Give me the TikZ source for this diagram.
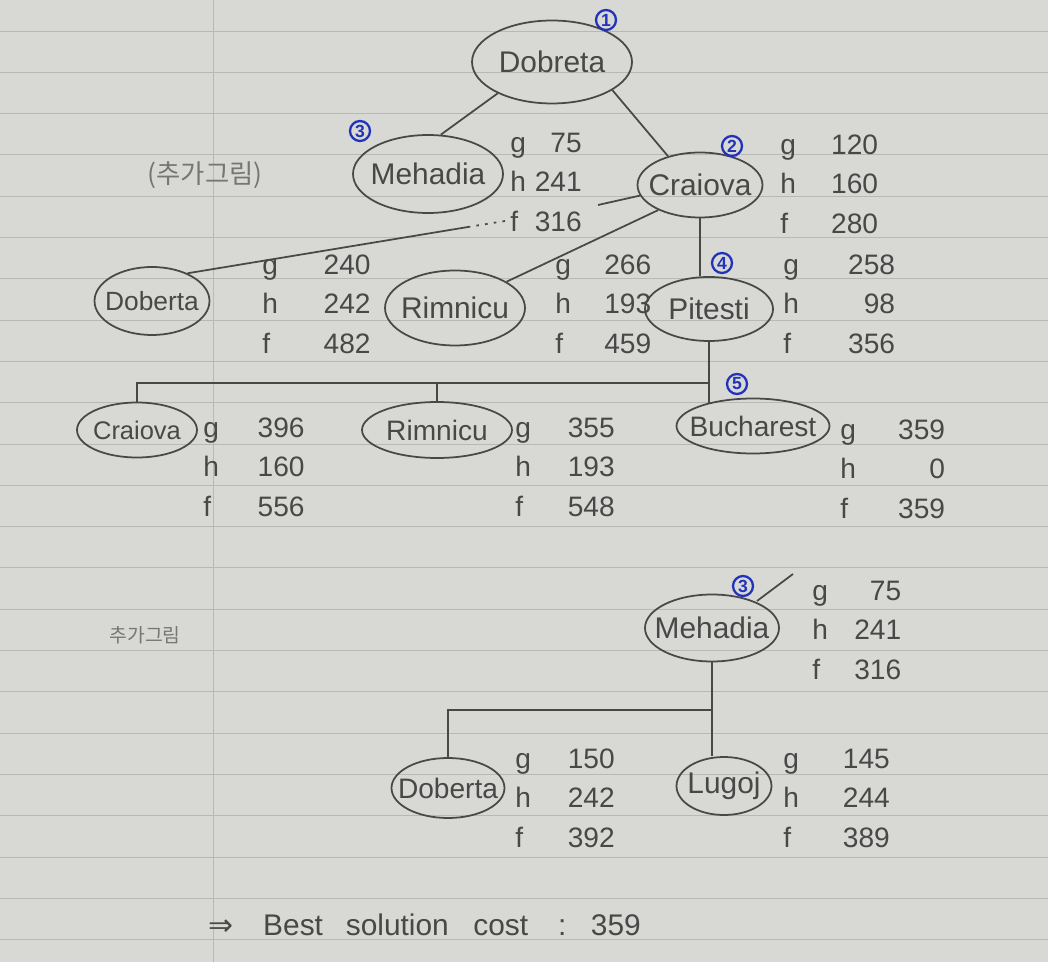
\documentclass[tikz,border=0pt]{standalone}
\usepackage{fontspec}
\setmainfont{Liberation Sans}
\newfontfamily\kr{Noto Sans CJK KR}
\newfontfamily\djv{DejaVu Sans}
\usetikzlibrary{shapes.geometric}
\definecolor{paper}{HTML}{D8D8D5}
\definecolor{ruleline}{HTML}{B8B8B6}
\definecolor{pencil}{HTML}{484848}
\definecolor{ink}{HTML}{2233BB}
\newcommand{\gh}[4][12pt]{\begin{tabular}{@{}l@{\hspace{#1}}r@{}}g&#2\\h&#3\\f&#4\end{tabular}}
\newcommand{\cn}[1]{\makebox[0pt]{#1}}
\begin{document}
\begin{tikzpicture}[x=0.02cm,y=-0.02cm,
 city/.style={ellipse,draw=pencil,line width=1pt,inner sep=0pt,text=pencil,font=\fontsize{17}{18}\selectfont},
 stats/.style={anchor=west,inner sep=0pt,text=pencil,font=\fontsize{16}{22.5}\selectfont},
 order/.style={circle,draw=ink,line width=1.3pt,inner sep=0pt,minimum size=0.4cm,text=ink,font=\fontsize{10}{10}\selectfont\bfseries},
 edge/.style={draw=pencil,line width=1pt},
 ruled/.style={draw=ruleline,line width=0.5pt},
 note/.style={text=pencil!75,font=\kr\fontsize{15}{15}\selectfont}]
\useasboundingbox (0,0) rectangle (1048,962);
\fill[paper] (0,0) rectangle (1048,962);
\foreach \k in {0,...,22}{\draw[ruled] (0,{31+41.3*\k}) -- (1048,{31+41.3*\k});}
\draw[ruled] (213,0) -- (213,962);

% city nodes
\node[city,minimum width=3.2cm,minimum height=1.66cm] (dob) at (552,62) {\cn{Dobreta}};
\node[city,minimum width=3.0cm,minimum height=1.56cm] (meh) at (428,174) {\cn{Mehadia}};
\node[city,minimum width=2.5cm,minimum height=1.3cm] (cra) at (700,185) {\cn{Craiova}};
\node[city,minimum width=2.3cm,minimum height=1.36cm,font=\fontsize{15}{16}\selectfont] (dbt) at (152,301) {\cn{Doberta}};
\node[city,minimum width=2.8cm,minimum height=1.5cm] (rim) at (455,308) {\cn{Rimnicu}};
\node[city,minimum width=2.56cm,minimum height=1.28cm] (pit) at (709,309) {\cn{Pitesti}};
\node[city,minimum width=2.4cm,minimum height=1.1cm,font=\fontsize{14.5}{16}\selectfont] (cra3) at (137,430) {\cn{Craiova}};
\node[city,minimum width=3.0cm,minimum height=1.12cm,font=\fontsize{16}{17}\selectfont] (rim3) at (437,430) {\cn{Rimnicu}};
\node[city,minimum width=3.06cm,minimum height=1.1cm,font=\fontsize{16}{17}\selectfont] (buc) at (753,426) {\cn{Bucharest}};
\node[city,minimum width=2.68cm,minimum height=1.34cm] (meh2) at (712,628) {\cn{Mehadia}};
\node[city,minimum width=2.26cm,minimum height=1.2cm,font=\fontsize{16}{17}\selectfont] (dbt2) at (448,788) {\cn{Doberta}};
\node[city,minimum width=1.9cm,minimum height=1.16cm] (lug) at (724,786) {\cn{Lugoj}};

% connectors
\coordinate (k1) at (598,205);
\coordinate (k2) at (505,221);
\coordinate (k3) at (468,227);
\coordinate (lvl3) at (0,383);
\coordinate (lvl4) at (0,710);
\coordinate (sl1) at (757,601);
\coordinate (sl2) at (793,574);
\draw[edge] (dob.210) -- (meh.72);
\draw[edge] (dob.335) -- (cra.138);
\draw[edge] (cra.190) -- (k1);
\draw[edge,dash pattern=on 1.5pt off 3.5pt] (k2) -- (k3);
\draw[edge] (k3) -- (dbt.38);
\draw[edge] (cra.211) -- (rim.27);
\draw[edge] (cra.south) -- (cra.south |- pit.north);
\draw[edge] (pit.south) -- (pit.south |- buc.153);
\coordinate (j1) at (pit.south |- lvl3);
\draw[edge] (j1) -| (cra3.north);
\draw[edge] (j1 -| rim3.north) -- (rim3.north);
\coordinate (j2) at (meh2.south |- lvl4);
\draw[edge] (meh2.south) -- (j2) -- (j2 |- lug.north);
\draw[edge] (j2) -| (dbt2.north);
\draw[edge] (sl1) -- (sl2);

% g h f values
\node[stats] (smeh) at (510,184) {\gh[5pt]{75}{241}{316}};
\node[stats] (scra) at (780,186) {\gh[20pt]{120}{160}{280}};
\node[stats] (sdbt) at (262,306) {\gh[26pt]{240}{242}{482}};
\node[stats] (srim) at (555,306) {\gh[19pt]{266}{193}{459}};
\node[stats] (spit) at (783,306) {\gh[28pt]{258}{98}{356}};
\node[stats] (scra3) at (203,469) {\gh[22pt]{396}{160}{556}};
\node[stats] (srim3) at (515,469) {\gh[21pt]{355}{193}{548}};
\node[stats] (sbuc) at (840,471) {\gh[24pt]{359}{0}{359}};
\node[stats] (smeh2) at (812,632) {\gh[15pt]{75}{241}{316}};
\node[stats] (sdbt2) at (515,800) {\gh[21pt]{150}{242}{392}};
\node[stats] (slug) at (783,800) {\gh[25pt]{145}{244}{389}};

% expansion order
\node[order] (o1) at (606,20) {1};
\node[order] (o2) at (732,146) {2};
\node[order] (o3) at (360,131) {3};
\node[order] (o4) at (722,263) {4};
\node[order] (o5) at (737,384) {5};
\node[order] (o6) at (743,586) {3};

% notes
\node[note] (n1) at (205,175) {(추가그림)};
\node[note,font=\kr\fontsize{11}{11}\selectfont] (n2) at (145,635) {추가그림};
\node[anchor=west,inner sep=0pt,text=pencil,font=\fontsize{17}{17}\selectfont] (best) at (208,925)
  {{\djv ⇒}\hspace{17pt}Best\hspace{13pt}solution\hspace{14pt}cost\hspace{17pt}:\hspace{14pt}359};
\end{tikzpicture}
\end{document}
